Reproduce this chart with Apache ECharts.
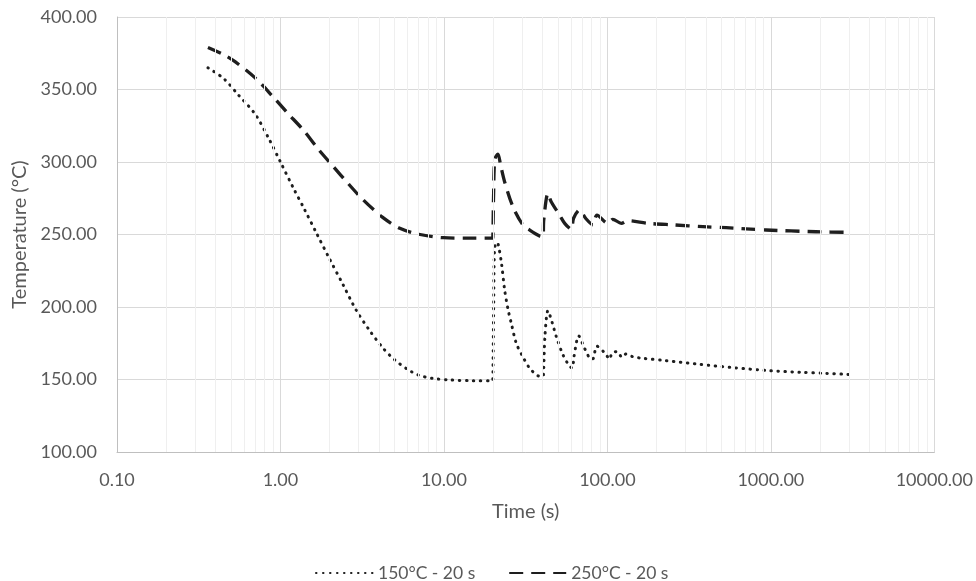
<!DOCTYPE html>
<html>
<head>
<meta charset="utf-8">
<script src="https://cdn.jsdelivr.net/npm/echarts@6/dist/echarts.min.js"></script>
<style>
html,body{margin:0;padding:0;background:#fff;}
#c{width:976px;height:581px;}
</style>
</head>
<body>
<div id="c"></div>
<script>
// Time (s) and temperature (°C) for each series
const t150 = [0.36, 0.45, 0.55, 0.7, 0.85, 1.0, 1.2, 1.4, 1.66, 2.0, 2.4, 2.9, 3.5, 4.25, 5.0, 6.0, 7.0, 8.5, 10.8, 15, 19.9,
  20.05, 20.15, 20.4, 21.0, 21.4, 22.5, 23.5, 24.7, 25.8, 27.7, 30.4, 33.5, 37.6, 40.2, 40.6, 41.5, 43.3, 46, 48.7, 53.5, 58.8, 61,
  62.5, 66.8, 72.5, 79.7, 82, 86.3, 97.5, 103, 107, 114.6, 123, 130, 143, 165, 229, 366, 585, 980, 1500, 2200, 3000];
const temp150 = [365, 357.5, 346.5, 333, 316, 300, 282, 267.5, 251, 233, 216, 198, 184, 171.5, 163.5, 157, 153, 150.8, 149.7, 149.2, 149.2,
  149.3, 200, 240, 244.5, 244, 230, 212, 198, 189, 175, 165.7, 157.7, 152.6, 152, 152.5, 180, 197.5, 189, 179.5, 167, 159, 158,
  166, 180, 171.5, 164, 164.5, 173, 167.6, 164, 168.5, 169.2, 165.3, 167.6, 165.7, 164.6, 163, 160.5, 158.2, 156.1, 155, 154.2, 153.5];

const t250 = [0.36, 0.45, 0.53, 0.7, 0.9, 1.1, 1.38, 1.7, 2.1, 2.6, 3.2, 4.2, 5.37, 7, 9.9, 15, 19.9,
  20.05, 20.15, 20.5, 21.4, 22.2, 23.5, 26.4, 30.4, 33.5, 38.5, 40.4, 40.8, 43.3, 45.3, 51, 54.8, 60.1, 62.1, 67.6, 73.6, 81.5,
  86.3, 100.7, 108, 121.6, 133, 177, 258, 384, 533, 935, 1892, 3020];
const temp250 = [379, 374, 369, 358, 345, 334, 322, 309, 297, 285, 274, 262, 254.3, 250.2, 247.8, 247.5, 247.5,
  247.6, 280, 302, 305.5, 298, 286.4, 269.2, 256.6, 253.1, 249, 248.5, 260, 278.4, 272.6, 263.4, 257.7, 253.6, 261.2, 266.9, 261.2, 256.6,
  263.4, 257.7, 260.5, 257.7, 259.5, 257.7, 256.6, 255.4, 254.7, 253.1, 251.9, 251.5];

const seriesNames = ['150°C - 20 s', '250°C - 20 s'];
const xMin = 0.1, xMax = 10000;
const yMin = 100, yMax = 400, yStep = 50;

const pairs = (t, v) => t.map((x, i) => [x, v[i]]);

// minor log gridlines (2..9 of each decade)
const minorLines = [];
for (let d = xMin; d < xMax; d *= 10) {
  for (let m = 2; m <= 9; m++) minorLines.push({ xAxis: +(d * m).toPrecision(3) });
}

const FONT = 'Lato';
const TXT = '#595959';
const chart = echarts.init(document.getElementById('c'), null, { renderer: 'canvas' });
chart.setOption({
  animation: false,
  textStyle: { fontFamily: FONT },
  grid: { left: 117, right: 41, top: 17, bottom: 129, containLabel: false },
  legend: {
    top: 559,
    left: 310,
    itemWidth: 57,
    itemHeight: 14,
    itemGap: 33,
    itemStyle: { opacity: 0 },
    textStyle: { color: TXT, fontSize: 17.5, fontFamily: FONT },
    data: seriesNames
  },
  xAxis: {
    type: 'log',
    logBase: 10,
    min: xMin,
    max: xMax,
    name: 'Time (s)',
    nameLocation: 'middle',
    nameGap: 50,
    nameTextStyle: { color: TXT, fontSize: 20, fontFamily: FONT },
    axisLine: { show: true, lineStyle: { color: '#bfbfbf', width: 1 } },
    axisTick: { show: false },
    axisLabel: { color: TXT, fontSize: 18, margin: 19, formatter: v => Number(v).toFixed(2) },
    splitLine: { show: true, lineStyle: { color: '#d9d9d9', width: 1 } },
    minorTick: { show: false },
    minorSplitLine: { show: false }
  },
  yAxis: {
    type: 'value',
    min: yMin,
    max: yMax,
    interval: yStep,
    name: 'Temperature (°C)',
    nameLocation: 'middle',
    nameGap: 85,
    nameTextStyle: { color: TXT, fontSize: 20, fontFamily: FONT },
    axisLine: { show: true, lineStyle: { color: '#bfbfbf', width: 1 } },
    axisTick: { show: false },
    axisLabel: { color: TXT, fontSize: 18, margin: 20, formatter: v => Number(v).toFixed(2) },
    splitLine: { show: true, lineStyle: { color: '#d9d9d9', width: 1 } }
  },
  series: [
    {
      name: '__minor',
      type: 'line',
      data: [],
      z: 1,
      silent: true,
      markLine: {
        silent: true,
        symbol: ['none', 'none'],
        label: { show: false },
        emphasis: { disabled: true },
        animation: false,
        lineStyle: { type: 'solid', color: '#efefef', width: 1 },
        data: minorLines
      }
    },
    {
      name: seriesNames[0],
      type: 'line',
      data: pairs(t150, temp150),
      z: 3,
      showSymbol: false,
      symbol: 'none',
      smooth: 0.3,
      lineStyle: { color: '#1e1e1e', width: 3, type: [0.5, 6.5], cap: 'round', join: 'round' },
      itemStyle: { color: '#1e1e1e' }
    },
    {
      name: seriesNames[1],
      type: 'line',
      data: pairs(t250, temp250),
      z: 3,
      showSymbol: false,
      symbol: 'none',
      smooth: 0.3,
      lineStyle: { color: '#1e1e1e', width: 3.3, type: [14, 8], cap: 'butt', join: 'round' },
      itemStyle: { color: '#1e1e1e' }
    }
  ]
});
</script>
</body>
</html>
